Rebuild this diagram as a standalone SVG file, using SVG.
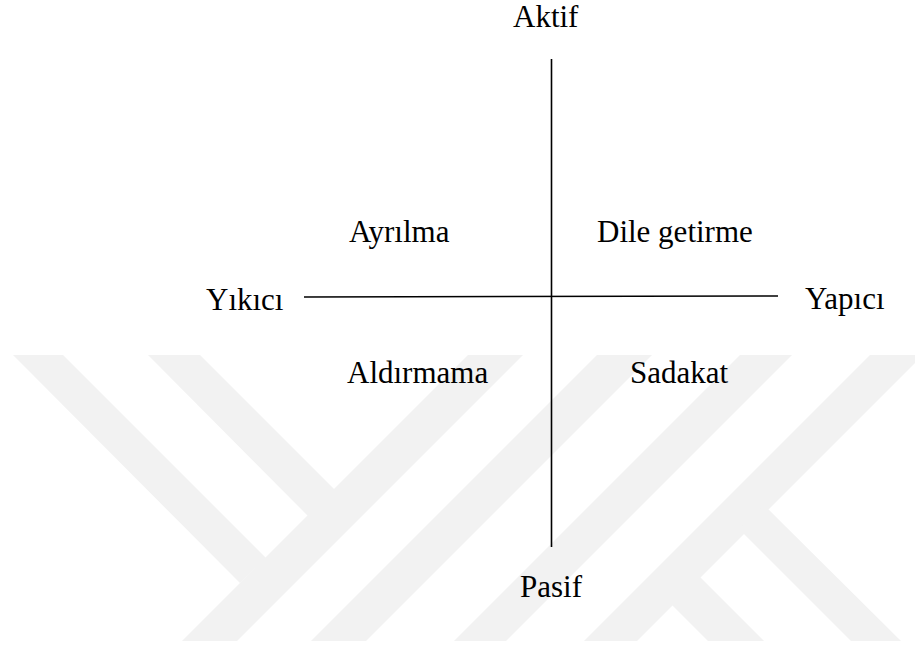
<svg xmlns="http://www.w3.org/2000/svg" width="915" height="645" viewBox="0 0 915 645">
  <style>
    text { font-family: 'Liberation Serif', 'DejaVu Serif', 'Times New Roman', serif; font-size: 31px; fill: #000; }
    .axis { stroke: #000; stroke-width: 1.6; fill: none; }
    .wm { fill: #f2f2f2; stroke: none; }
  </style>
  <rect x="0" y="0" width="915" height="645" fill="#ffffff"/>
  <g id="watermark">
    <polygon class="wm" points="13,355 63,355 266,558 240,583"/>
    <polygon class="wm" points="148,355 200,355 335,490 308,516"/>
    <polygon class="wm" points="468,355 523,355 237,641 182,641"/>
    <polygon class="wm" points="597,355 652,355 366,641 311,641"/>
    <polygon class="wm" points="740,355 792,355 506,641 454,641"/>
    <polygon class="wm" points="870,355 915,355 915,363 637,641 584,641"/>
    <polygon class="wm" points="764,505 901,641 851,641 739,529"/>
    <polygon class="wm" points="695,572 764,641 708,641 668,601"/>
  </g>
  <g id="connectors">
    <line class="axis" x1="551.5" y1="59" x2="551.5" y2="547"/>
    <line class="axis" x1="304" y1="297" x2="778" y2="296"/>
  </g>
  <g id="aktif"><text x="513" y="27">Aktif</text></g>
  <g id="pasif"><text x="520" y="597">Pasif</text></g>
  <g id="yikici"><text x="206" y="310">Yıkıcı</text></g>
  <g id="yapici"><text x="805" y="309">Yapıcı</text></g>
  <g id="ayrilma"><text x="349" y="242">Ayrılma</text></g>
  <g id="dile-getirme"><text x="597" y="242">Dile getirme</text></g>
  <g id="aldirmama"><text x="347" y="383">Aldırmama</text></g>
  <g id="sadakat"><text x="630" y="383">Sadakat</text></g>
</svg>
